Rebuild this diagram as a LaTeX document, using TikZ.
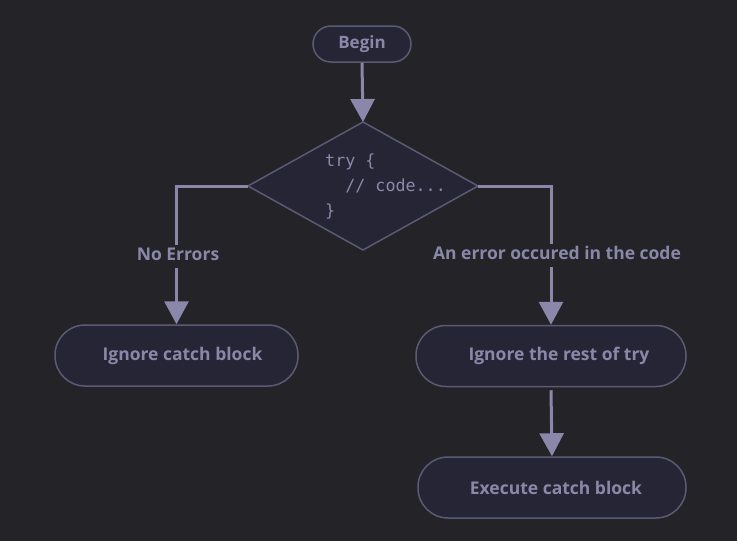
\documentclass[tikz,border=0pt]{standalone}
\usepackage{fontspec}
\setmainfont{Open Sans}
\setmonofont{DejaVu Sans Mono}
\usetikzlibrary{arrows.meta,shapes.geometric}
\definecolor{bg}{HTML}{242328}
\definecolor{nodefill}{HTML}{262535}
\definecolor{edge}{HTML}{5C5A72}
\definecolor{txt}{HTML}{8A88A8}
\definecolor{arr}{HTML}{8A87AB}
\tikzset{
  term/.style={draw=edge, line width=1.5pt, fill=nodefill, rounded corners=18pt, minimum height=36pt, minimum width=98pt, text=txt, font=\bfseries\fontsize{17}{20}\selectfont, inner sep=0pt},
  proc/.style={draw=edge, line width=1.5pt, fill=nodefill, rounded corners=30pt, minimum height=61pt, text=txt, font=\bfseries\fontsize{17.5}{20}\selectfont, inner sep=0pt},
  lbl/.style={text=txt, font=\bfseries\fontsize{17.5}{20}\selectfont, inner sep=2pt},
  conn/.style={draw=arr, line width=3pt},
  arrw/.style={draw=arr, line width=3pt, -{Triangle[width=24pt,length=23pt]}},
}
\begin{document}
\begin{tikzpicture}[x=1pt,y=-1pt]
\fill[bg] (0,0) rectangle (737,541);
\useasboundingbox (0,0) rectangle (737,541);
\node[term] (begin) at (362,44) {Begin};
\draw[draw=edge, line width=1.5pt, fill=nodefill] (248,186) coordinate (dw) -- (363,122) coordinate (dn) -- (478,186) coordinate (de) -- (363,250) coordinate (ds) -- cycle;
\node[text=txt, font=\ttfamily\fontsize{16.7}{25}\selectfont, align=left, anchor=base west, inner sep=0pt] (code) at (325,216) {try \{\\\ \ // code...\\\}};
\node[lbl] (noerr) at (178,254) {No Errors};
\node[lbl] (err) at (557,253) {An error occured in the code};
\node[proc, minimum width=243pt] (ignore) at (176.5,355.5) {\hspace*{12pt}Ignore catch block};
\node[proc, minimum width=270pt] (rest) at (551,356) {\hspace*{16pt}Ignore the rest of try};
\node[proc, minimum width=268pt] (exec) at (552,487.5) {\hspace*{8pt}Execute catch block};
\draw[arrw] (begin.south) -- (dn);
\draw[conn] (dw) -| (noerr.north -| ignore.north);
\draw[conn] (de) -| (err.north -| rest.north);
\draw[arrw] (noerr.south -| ignore.north) ++(0,5) -- (ignore.north);
\draw[arrw] (err.south -| rest.north) ++(0,5) -- (rest.north);
\draw[arrw] (rest.south) ++(0,3) -- (exec.north);
\end{tikzpicture}
\end{document}
